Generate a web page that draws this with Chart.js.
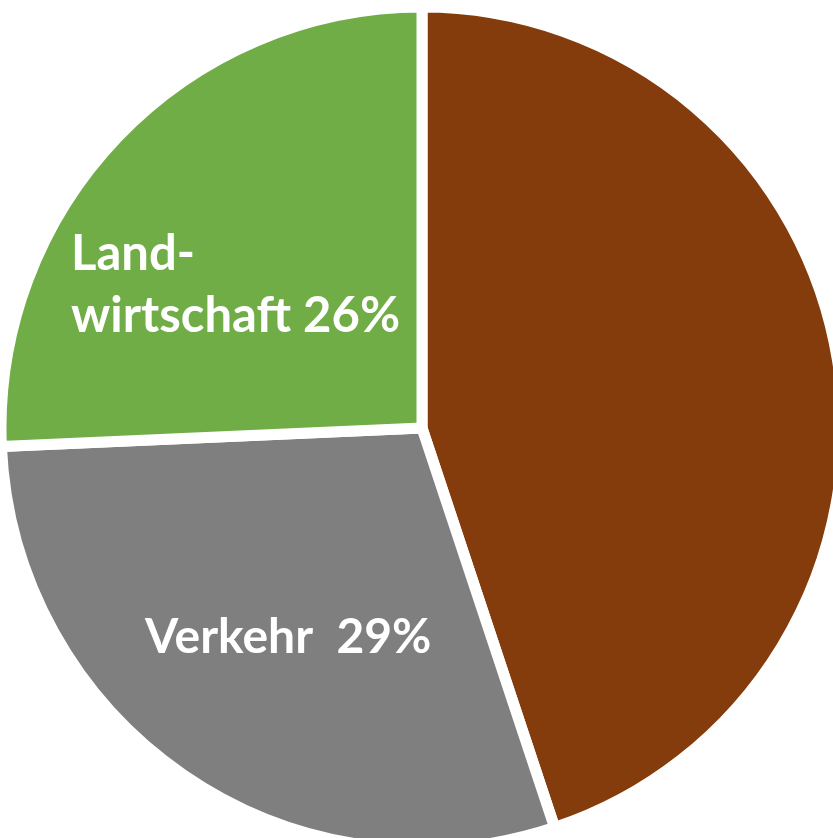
<!DOCTYPE html>
<html>
<head>
<meta charset="utf-8">
<script src="https://cdn.jsdelivr.net/npm/chart.js@4"></script>
<style>
  html, body { margin: 0; padding: 0; background: #fff; overflow: hidden; }
  #wrap { position: relative; width: 833px; height: 838px; }
</style>
</head>
<body>
<div id="wrap"><canvas id="pie"></canvas></div>
<script>
// --- Daten ---
const labels = ['Industrie', 'Verkehr', 'Landwirtschaft'];
const shares = [44.9, 29.4, 25.7];
const colors = ['#843C0C', '#7F7F7F', '#70AD47'];
// Beschriftungen (leer = keine Beschriftung)
const sliceText = [[], ['Verkehr  29%'], ['Land-', 'wirtschaft 26%']];

// Textposition relativ zum Kreismittelpunkt
const textPos = [null, { dx: -277, dy: 225, size: 48 }, { dx: -351, dy: -158, size: 49, lh: 62 }];

const labelPlugin = {
    id: 'sliceLabels',
    afterDatasetsDraw(chart) {
        const ctx = chart.ctx;
        const arcs = chart.getDatasetMeta(0).data;
        ctx.save();
        ctx.fillStyle = '#ffffff';
        ctx.textAlign = 'left';
        ctx.textBaseline = 'alphabetic';
        arcs.forEach((arc, i) => {
            const p = textPos[i];
            if (!p) return;
            ctx.font = `bold ${p.size}px Lato, "Open Sans", sans-serif`;
            sliceText[i].forEach((line, j) => {
                ctx.fillText(line, arc.x + p.dx, arc.y + p.dy + j * (p.lh || 0));
            });
        });
        ctx.restore();
    }
};

const chart = new Chart(document.getElementById('pie'), {
    type: 'pie',
    data: {
        labels: labels,
        datasets: [{
            data: shares,
            backgroundColor: colors,
            borderColor: '#ffffff',
            borderWidth: 11
        }]
    },
    options: {
        responsive: true,
        maintainAspectRatio: false,
        animation: false,
        radius: 421,
        layout: { padding: { left: 11, top: 18 } },
        plugins: {
            legend: { display: false },
            tooltip: { enabled: false }
        }
    },
    plugins: [labelPlugin]
});
</script>
</body>
</html>
